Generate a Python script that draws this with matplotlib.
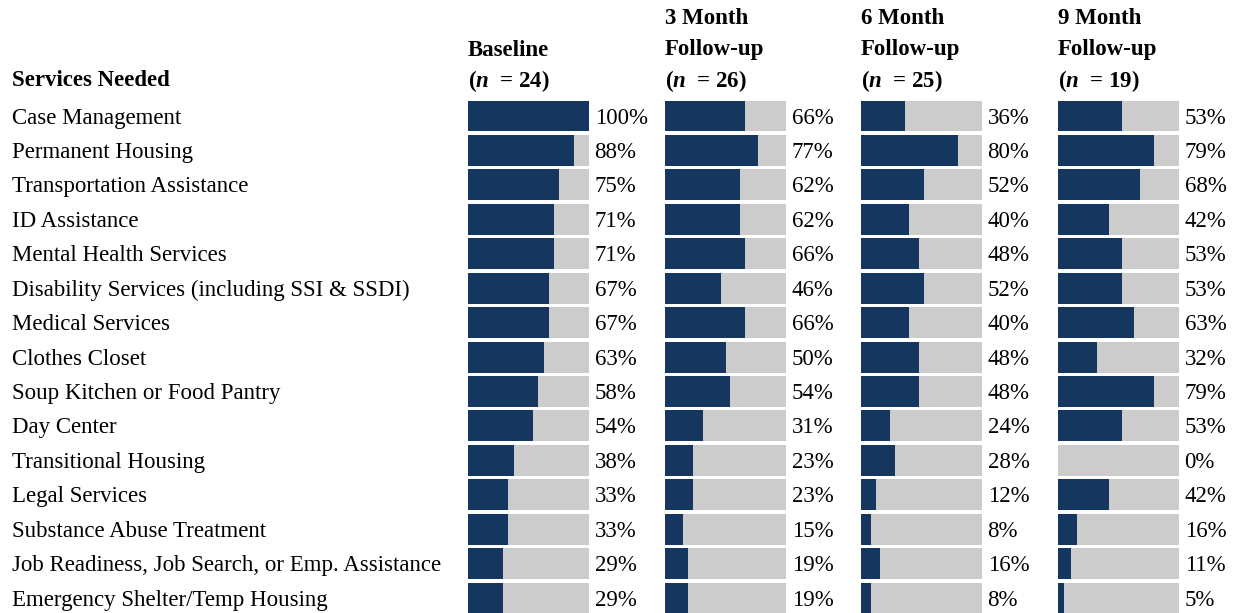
#!/usr/bin/env python3
# -*- coding: utf-8 -*-

from matplotlib import pyplot as plt
from matplotlib import transforms

plt.rcParams["font.family"] = ["Liberation Serif", "DejaVu Serif"]
plt.rcParams["mathtext.fontset"] = "custom"
plt.rcParams["mathtext.it"] = "Liberation Serif:bold:italic"
plt.rcParams["mathtext.rm"] = "Liberation Serif:bold"

services = ["Case Management",
            "Permanent Housing",
            "Transportation Assistance",
            "ID Assistance",
            "Mental Health Services",
            "Disability Services (including SSI & SSDI)",
            "Medical Services",
            "Clothes Closet",
            "Soup Kitchen or Food Pantry",
            "Day Center",
            "Transitional Housing",
            "Legal Services",
            "Substance Abuse Treatment",
            "Job Readiness, Job Search, or Emp. Assistance",
            "Emergency Shelter/Temp Housing"]

waves      = ["Baseline", "3 Month\nFollow-up", "6 Month\nFollow-up", "9 Month\nFollow-up"]
wave_n     = [24, 26, 25, 19]
baseline   = [100, 88, 75, 71, 71, 67, 67, 63, 58, 54, 38, 33, 33, 29, 29]
month3     = [66, 77, 62, 62, 66, 46, 66, 50, 54, 31, 23, 23, 15, 19, 19]
month6     = [36, 80, 52, 40, 48, 52, 40, 48, 48, 24, 28, 12, 8, 16, 8]
month9     = [53, 79, 68, 42, 53, 53, 63, 32, 79, 53, 0, 42, 16, 11, 5]
wave_pcts  = [baseline, month3, month6, month9]

NAVY = "#14365f"
GREY = "#cdcccd"
FS = 16.5

W, H = 1233, 613
fig = plt.figure(figsize=(W / 100, H / 100), dpi=100)

panel_left = [468, 665, 861, 1058]
panel_w = 121
row_pitch = 34.43
top = 116 - row_pitch / 2
bottom = top + row_pitch * len(services)

rows = range(len(services))
axes = []
for left, pcts in zip(panel_left, wave_pcts):
    ax = fig.add_axes([left / W, 1 - bottom / H, panel_w / W, (bottom - top) / H])
    ax.barh(rows, [100] * len(services), height=0.9, color=GREY, linewidth=0)
    ax.barh(rows, pcts, height=0.9, color=NAVY, linewidth=0)
    ax.set_xlim(0, 100)
    ax.set_ylim(len(services) - 0.5, -0.5)
    ax.axis("off")
    for i, p in enumerate(pcts):
        ax.annotate(f"{p}%", xy=(100, i), xytext=(4, -1.5), textcoords="offset points",
                    va="center", ha="left", fontsize=FS, annotation_clip=False)
    axes.append(ax)

# service names down the left, aligned with the bar rows
trans = transforms.blended_transform_factory(fig.transFigure, axes[0].transData)
for i, name in enumerate(services):
    axes[0].annotate(name, xy=(12 / W, i), xycoords=trans, xytext=(0, -1.5),
                     textcoords="offset points", va="center", ha="left", fontsize=FS)

fig.text(12 / W, 1 - 80 / H, "Services Needed", va="center", ha="left",
         fontsize=FS, fontweight="bold")

# column headers
for left, title, n in zip(panel_left, waves, wave_n):
    lines = title.split("\n") + [f"($n$  = {n})"]
    for k, line in enumerate(reversed(lines)):
        fig.text(left / W, 1 - (81 - 31 * k) / H, line, va="center", ha="left",
                 fontsize=FS, fontweight="bold")

fig.savefig("out.png", dpi=100)
